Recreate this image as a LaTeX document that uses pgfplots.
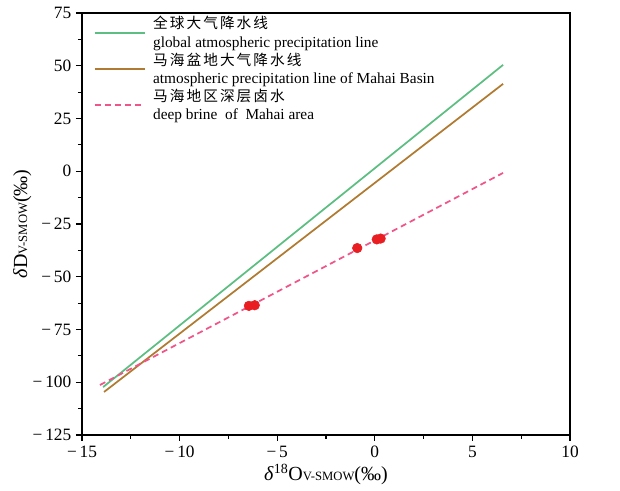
\documentclass[border=0pt]{standalone}
\usepackage{pgfplots}
\pgfplotsset{compat=1.18}
\usepackage{fontspec}
\setmainfont{Liberation Serif}
\newfontfamily\cjk[LetterSpace=14]{Noto Sans CJK SC}
\usetikzlibrary{calc}
\definecolor{glc}{RGB}{92,190,128}
\definecolor{mhc}{RGB}{176,122,48}
\definecolor{brc}{RGB}{240,84,136}
\definecolor{ptc}{RGB}{232,30,34}

\begin{document}
\begin{tikzpicture}
\begin{axis}[
  scale only axis,
  width=366pt, height=316.5pt,
  xmin=-15, xmax=10, ymin=-125, ymax=75,
  xtick={-15,-10,-5,0,5,10},
  xticklabels={−\,15,−\,10,−\,5,0,5,10},
  ytick={-125,-100,-75,-50,-25,0,25,50,75},
  yticklabels={−\,125,−\,100,−\,75,−\,50,−\,25,0,25,50,75},
  minor tick num=1,
  tick align=outside,
  xtick pos=bottom, ytick pos=left,
  major tick length=4.5pt, minor tick length=3pt,
  tick style={black, line width=0.9pt},
  axis line style={line width=1.2pt},
  tick label style={font=\fontsize{13}{15}\selectfont},
  xlabel={\textit{δ}\textsuperscript{18}O{\fontsize{9.5}{11}\selectfont V-SMOW}(‰)},
  ylabel={\textit{δ}D{\fontsize{9.5}{11}\selectfont V-SMOW}(‰)},
  label style={font=\fontsize{15}{17}\selectfont},
  xlabel style={yshift=1.5pt},
  ylabel style={yshift=-6pt},
  legend style={draw=none, fill=none, at={(rel axis cs:0.016,1.005)}, anchor=north west,
    font=\fontsize{11.5}{13.6}\selectfont, row sep=-1.2pt,
    cells={anchor=west, align=left}},
  legend image code/.code={\draw[#1] (0pt,0pt) -- (37.5pt,0pt); \path (41pt,0pt);},
]
\addplot[glc, line width=1.3pt] coordinates {(-13.92,-102.3) (6.57,50.4)};
\addlegendentry{{\cjk\fontsize{11}{13.6}\selectfont 全球大气降水线}\\global atmospheric precipitation line}
\addplot[mhc, line width=1.3pt] coordinates {(-13.87,-104.6) (6.57,41.4)};
\addlegendentry{{\cjk\fontsize{11}{13.6}\selectfont 马海盆地大气降水线}\\atmospheric precipitation line of Mahai Basin}
\addplot[brc, line width=1.3pt, dash pattern=on 4.5pt off 3pt] coordinates {(-14.08,-101.3) (6.57,-0.8)};
\addlegendentry{{\cjk\fontsize{11}{13.6}\selectfont 马海地区深层卤水}\\deep brine\ \ of\ \ Mahai area}
\addplot[only marks, mark=*, mark size=3.6pt, ptc, mark options={draw=ptc, fill=ptc}, forget plot]
  coordinates {(-6.45,-63.8) (-6.15,-63.5) (-0.9,-36.4) (0.1,-32.3) (0.3,-31.9)};
\end{axis}
\path ($(current axis.south west)+(-61.5pt,-42pt)$) rectangle ($(current axis.north east)+(37.5pt,9.75pt)$);
\end{tikzpicture}
\end{document}
